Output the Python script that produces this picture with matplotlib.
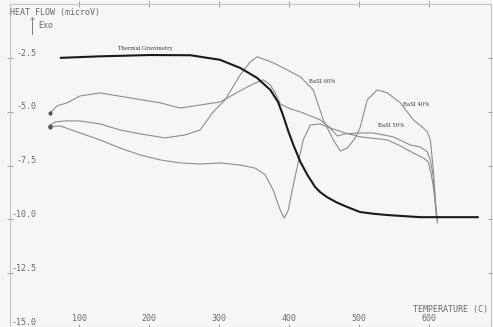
"""DSC heat flow traces with thermal gravimetry overlay."""

import matplotlib.pyplot as plt

# thermal gravimetry trace (temperature C, heat flow microV)
TG_TEMP = [74, 130, 201, 259, 273, 301, 330, 354, 373, 384, 391, 399, 406,
           416, 426, 437, 444, 454, 468, 483, 501, 520, 540, 587, 669]
TG_FLOW = [-2.50, -2.43, -2.37, -2.38, -2.45, -2.59, -2.97, -3.43, -3.99,
           -4.55, -5.15, -5.94, -6.55, -7.34, -7.94, -8.50, -8.73, -8.97,
           -9.22, -9.43, -9.66, -9.74, -9.80, -9.90, -9.90]

BASI_A_TEMP = [58.6, 68.6, 82.9, 101.4, 130, 172.9, 215.7, 244.3, 272.9, 301.4,
               330, 348.6, 362.9, 372.9, 380, 387.1, 401.4, 415.7, 444.3, 458.6,
               468.6, 480, 501.4, 520, 548.6, 572.9, 587.1, 597.1, 601.4, 605.7,
               610]
BASI_A_FLOW = [-5.06, -4.73, -4.59, -4.27, -4.13, -4.36, -4.59, -4.83, -4.69,
               -4.55, -4.03, -3.71, -3.52, -3.76, -4.13, -4.64, -4.87, -5.01,
               -5.38, -5.76, -6.13, -6.03, -5.99, -5.99, -6.17, -6.55, -6.64,
               -6.87, -7.24, -8.03, -9.90]

BASI_B_TEMP = [58.6, 65.7, 80, 101.4, 130, 158.6, 187.1, 222.9, 251.4, 272.9,
               291.4, 308.6, 330, 344.3, 354.3, 365.7, 377.1, 397.1, 415.7,
               434.3, 448.6, 462.9, 472.9, 482.9, 494.3, 501.4, 511.4, 525.7,
               540, 558.6, 577.1, 591.4, 597.1, 601.4, 605.7, 608.6, 611.4]
BASI_B_FLOW = [-5.66, -5.48, -5.43, -5.43, -5.57, -5.85, -6.03, -6.22, -6.08,
               -5.85, -5.01, -4.45, -3.29, -2.69, -2.45, -2.59, -2.73, -3.06,
               -3.38, -3.99, -5.38, -6.31, -6.83, -6.69, -6.22, -5.71, -4.45,
               -3.99, -4.13, -4.59, -5.38, -5.76, -5.94, -6.31, -7.71, -9.10,
               -10.17]

BASI_C_TEMP = [58.6, 72.9, 101.4, 130, 158.6, 187.1, 215.7, 244.3, 272.9,
               301.4, 330, 351.4, 365.7, 377.1, 387.1, 392.9, 398.6, 404.3,
               411.4, 420, 430, 444.3, 458.6, 480, 501.4, 540, 558.6, 577.1,
               591.4, 598.6, 602.9, 605.7, 611.4]
BASI_C_FLOW = [-5.71, -5.66, -5.99, -6.31, -6.69, -7.01, -7.24, -7.38, -7.43,
               -7.38, -7.48, -7.62, -7.94, -8.64, -9.57, -9.94, -9.57, -8.64,
               -7.57, -6.31, -5.62, -5.57, -5.76, -5.99, -6.17, -6.31, -6.59,
               -6.92, -7.15, -7.34, -7.94, -8.50, -10.03]

X_TICKS = [100, 200, 300, 400, 500, 600]
Y_TICKS = [-2.5, -5.0, -7.5, -10.0, -12.5, -15.0]

CURVE_LABELS = ["Thermal Gravimetry", "BaSI 60%", "BaSI 40%", "BaSI 50%"]
CURVE_LABEL_POS = [(194, -2.08), (447, -3.62), (581, -4.69), (546, -5.66)]

W, H = 493, 327
BG = "#f6f6f6"
GREY = "#8c8c8c"
TEXT = "#6a6a6a"

fig = plt.figure(figsize=(W / 100, H / 100), dpi=100, facecolor=BG)
ax = fig.add_axes([10 / W, 0, 481 / W, 323 / H], facecolor=BG)
ax.set_xlim(1.4, 688)
ax.set_ylim(-15, 0)

for temp, flow in [(BASI_A_TEMP, BASI_A_FLOW), (BASI_B_TEMP, BASI_B_FLOW),
                   (BASI_C_TEMP, BASI_C_FLOW)]:
    ax.plot(temp, flow, color=GREY, lw=0.8)
    ax.plot(temp[0], flow[0], "o", color="#555555", ms=2)
ax.plot(TG_TEMP, TG_FLOW, color="#1a1a1a", lw=1.5)

for spine in ax.spines.values():
    spine.set_color("#c4c4c4")
    spine.set_linewidth(0.8)

ax.set_xticks(X_TICKS)
ax.set_yticks(Y_TICKS)
ax.tick_params(which="both", direction="inout", length=4, width=0.7,
               color="#9a9a9a", labelbottom=False, labelleft=False,
               top=True, right=True)

mono = dict(family="DejaVu Sans Mono", fontsize=6, color=TEXT)
for v in Y_TICKS:
    ax.text(40, v + 0.22, f"{v:.1f}", ha="right", va="center", **mono)
for t in X_TICKS:
    ax.text(t, -14.6, f"{t}", ha="center", va="center", **mono)
ax.text(684, -14.2, "TEMPERATURE (C)", ha="right", va="center", **mono)

fig.text(10 / W, 1 - 13 / H, "HEAT FLOW (microV)", ha="left", va="center",
         **mono)
fig.text(38 / W, 1 - 25 / H, "Exo", ha="left", va="center", **mono)
fig.add_artist(plt.Line2D([32 / W, 32 / W], [1 - 34 / H, 1 - 18 / H],
                          color=TEXT, lw=0.6))
fig.text(32 / W, 1 - 21 / H, "^", ha="center", va="center",
         family="DejaVu Sans Mono", fontsize=6, color=TEXT)

for label, (t, v) in zip(CURVE_LABELS, CURVE_LABEL_POS):
    ax.text(t, v, label, ha="center", va="center", family="DejaVu Serif",
            fontsize=3.8, color="#333333")

fig.savefig("out.png", dpi=100, facecolor=BG)
